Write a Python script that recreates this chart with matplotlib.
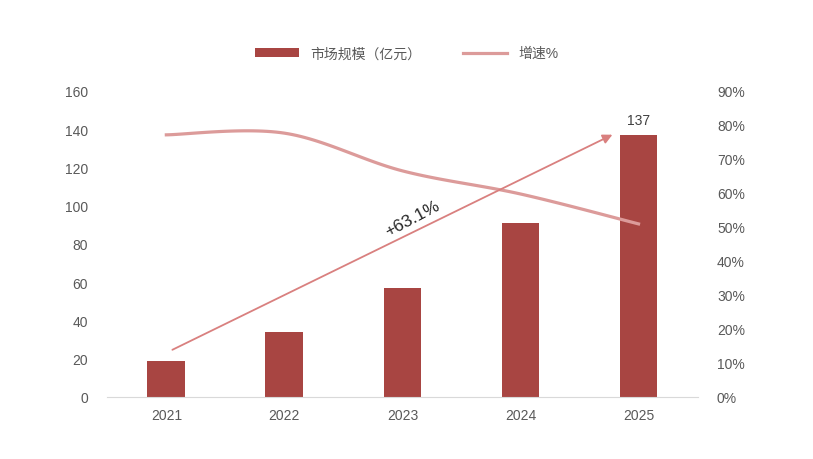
import numpy as np
import matplotlib.pyplot as plt

plt.rcParams['font.family'] = ['Liberation Sans', 'Noto Sans CJK SC', 'DejaVu Sans']

years = ['2021', '2022', '2023', '2024', '2025']
market = [19, 34, 57, 91, 137]          # 市场规模（亿元）
growth = [77.1, 77.6, 66.5, 59.7, 50.9]  # 增速 %

bar_color = '#A84542'
line_color = '#DC9B9A'
text_color = '#595959'

def smooth(x, y, n=30):
    # excel-like smoothed line (catmull-rom), only for drawing
    x = np.asarray(x, float)
    y = np.asarray(y, float)
    px = np.concatenate([[x[0]], x, [x[-1]]])
    py = np.concatenate([[y[0]], y, [y[-1]]])
    xs, ys = [], []
    t = np.linspace(0, 1, n)
    for i in range(1, len(px)-2):
        for p, out in ((px, xs), (py, ys)):
            p0, p1, p2, p3 = p[i-1], p[i], p[i+1], p[i+2]
            c1 = p1 + (p2 - p0)/6
            c2 = p2 - (p3 - p1)/6
            out.extend((1-t)**3*p1 + 3*(1-t)**2*t*c1 + 3*(1-t)*t**2*c2 + t**3*p2)
    return np.array(xs), np.array(ys)

fig = plt.figure(figsize=(8.13, 4.60), dpi=100)
ax = fig.add_axes([0.132, 0.135, 0.726, 0.665])
x = np.arange(len(years))
bars = ax.bar(x, market, width=0.32, color=bar_color, label='市场规模（亿元）', zorder=2)
ax.set_xlim(-0.5, 4.5)
ax.set_ylim(0, 160)
ax.set_yticks(np.arange(0, 161, 20))
ax.set_xticks(x)
ax.set_xticklabels(years)
for s in ['top', 'right', 'left']:
    ax.spines[s].set_visible(False)
ax.spines['bottom'].set_color('#D9D9D9')
ax.tick_params(length=0, colors=text_color, labelsize=10)
ax.tick_params(axis='x', pad=8)
ax.tick_params(axis='y', pad=14)

ax.text(x[-1], market[-1] + 4, str(market[-1]), ha='center', va='bottom',
        fontsize=10, color='#404040')

ax2 = ax.twinx()
sx, sy = smooth(x, growth)
line, = ax2.plot(sx, sy, color=line_color, lw=2.3, label='增速%', zorder=3)
ax2.set_ylim(0, 90)
ax2.set_yticks(np.arange(0, 91, 10))
ax2.set_yticklabels([f'{v}%' for v in range(0, 91, 10)])
for s in ['top', 'right', 'left', 'bottom']:
    ax2.spines[s].set_visible(False)
ax2.tick_params(length=0, colors=text_color, labelsize=10, pad=14)

# CAGR arrow
ax2.annotate('', xy=(3.8, 77.5), xytext=(0.03, 13.5),
             arrowprops=dict(arrowstyle='-|>', color='#D9807F', lw=1.3,
                             mutation_scale=14), zorder=4)
ax2.text(2.08, 52.5, '+63.1%', rotation=28, ha='center', va='center',
         fontsize=12.5, color='#262626', zorder=5)

fig.legend([bars, line], ['市场规模（亿元）', '增速%'], loc='center',
           bbox_to_anchor=(0.5, 0.882), ncol=2, frameon=False,
           fontsize=10, labelcolor=text_color, handlelength=3.2,
           columnspacing=3, handleheight=0.6)

plt.savefig('out.png', dpi=100)
plt.close()
